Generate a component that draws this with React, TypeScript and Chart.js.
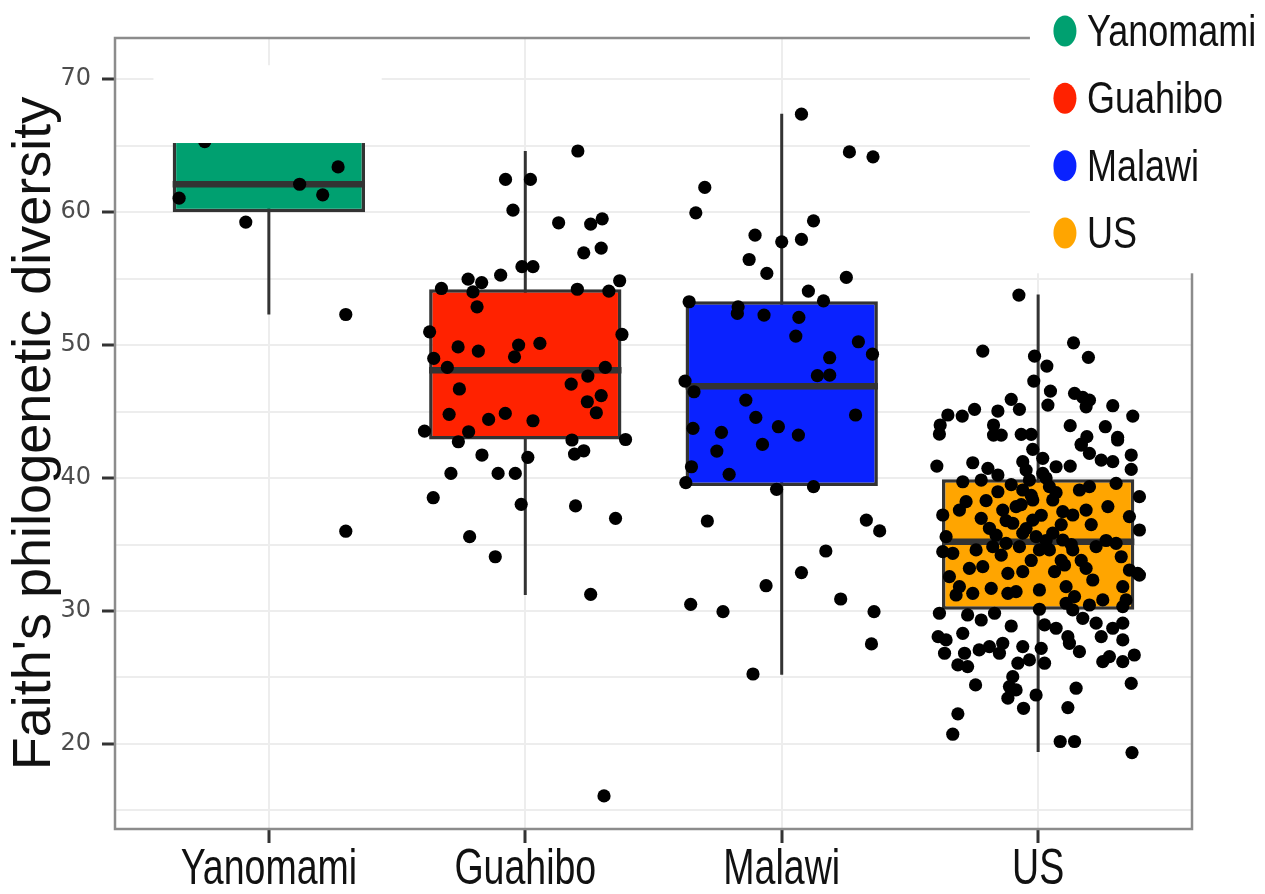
import React, { useEffect, useRef } from "react";
import { Chart, registerables } from "chart.js";

Chart.register(...registerables);

// ---------- data ----------
const categories = ["Yanomami", "Guahibo", "Malawi", "US"];
const fillColors = ["#00A070", "#FF2200", "#0A22FF", "#FFA500"];
const yAxisTitle = "Faith's philogenetic diversity";
const yTickLabels = [20, 30, 40, 50, 60, 70];

const whiskerLow = [52.3, 31.2, 25.2, 19.4];
const q1 = [60.0, 42.9, 39.4, 30.1];
const medians = [62.1, 48.1, 46.9, 35.2];
const q3 = [66.5, 54.2, 53.3, 39.9];
const whiskerHigh = [71.0, 64.6, 67.4, 53.8];

// [horizontal jitter (category units), value]
const yanomamiPoints = [
  [-0.25, 65.3], [-0.35, 61.05], [0.12, 62.1], [0.21, 61.3], [0.27, 63.4],
  [-0.09, 59.25], [0.3, 52.3], [0.3, 36.0],
];

const guahiboPoints = [
  [0.205, 64.6], [-0.077, 62.46], [0.02, 62.46], [-0.048, 60.15], [0.13, 59.2],
  [0.255, 59.1], [0.3, 59.5], [0.228, 56.94], [0.296, 57.3], [-0.013, 55.9],
  [0.03, 55.9], [-0.096, 55.26], [-0.223, 54.96], [-0.17, 54.7], [-0.204, 54.0],
  [-0.327, 54.26], [0.203, 54.2], [0.326, 54.06], [0.368, 54.84], [-0.188, 52.88],
  [-0.373, 51.0], [0.377, 50.8], [-0.262, 49.86], [-0.183, 49.55], [-0.026, 50.0],
  [-0.042, 49.12], [0.057, 50.13], [-0.357, 49.0], [-0.304, 48.32], [0.312, 48.32],
  [0.244, 47.67], [0.179, 47.07], [-0.257, 46.7], [0.296, 46.2], [0.242, 45.74],
  [0.277, 44.91], [-0.297, 44.79], [-0.143, 44.41], [-0.078, 44.86], [0.03, 44.31],
  [-0.393, 43.53], [-0.221, 43.48], [-0.261, 42.73], [0.391, 42.9], [0.182, 42.86],
  [0.192, 41.8], [0.228, 42.05], [-0.169, 41.73], [0.01, 41.56], [-0.29, 40.35],
  [-0.106, 40.35], [-0.039, 40.35], [-0.359, 38.52], [-0.016, 38.02], [0.196, 37.9],
  [0.352, 36.97], [-0.217, 35.59], [-0.117, 34.08], [0.255, 31.25], [0.307, 16.09],
];

const malawiPoints = [
  [0.077, 67.37], [0.264, 64.53], [0.356, 64.16], [-0.3, 61.86], [-0.335, 59.95],
  [0.124, 59.35], [-0.104, 58.27], [0.0, 57.77], [0.077, 57.95], [-0.127, 56.44],
  [-0.058, 55.39], [0.252, 55.09], [0.104, 54.06], [0.163, 53.33], [-0.361, 53.26],
  [-0.17, 52.88], [-0.173, 52.38], [-0.069, 52.26], [0.067, 52.08], [0.055, 50.68],
  [0.299, 50.25], [0.354, 49.32], [0.187, 49.05], [0.139, 47.7], [0.187, 47.74],
  [-0.377, 47.29], [-0.342, 46.49], [-0.14, 45.86], [-0.101, 44.56], [0.288, 44.74],
  [-0.346, 43.74], [-0.235, 43.44], [-0.013, 43.86], [0.065, 43.23], [-0.253, 42.03],
  [-0.075, 42.53], [-0.352, 40.85], [-0.205, 40.28], [-0.374, 39.65], [-0.02, 39.15],
  [0.124, 39.35], [-0.29, 36.77], [0.33, 36.84], [0.382, 36.02], [0.172, 34.51],
  [0.077, 32.89], [-0.061, 31.9], [-0.355, 30.5], [-0.229, 29.95], [0.23, 30.9],
  [0.36, 29.95], [0.35, 27.52], [-0.112, 25.26],
];

const usPoints = [
  [-0.075, 53.76], [-0.216, 49.55], [0.138, 50.17], [0.196, 49.08], [-0.014, 49.17],
  [0.034, 48.42], [-0.017, 47.29], [0.048, 46.54], [0.038, 45.49], [-0.105, 45.92],
  [-0.073, 45.17], [-0.248, 45.17], [-0.296, 44.66], [-0.352, 44.74], [-0.382, 43.99],
  [-0.385, 43.31], [-0.157, 45.04], [-0.174, 43.99], [-0.174, 43.23], [-0.144, 43.23],
  [-0.066, 43.29], [-0.027, 43.29], [0.142, 46.37], [0.174, 46.07], [0.2, 45.86],
  [0.187, 45.36], [0.291, 45.44], [0.369, 44.66], [0.125, 43.94], [0.262, 43.86],
  [0.31, 43.06], [0.19, 43.11], [0.168, 42.55],
  [-0.395, 40.9], [-0.255, 41.15], [-0.196, 40.73], [-0.157, 40.23], [-0.06, 41.23],
  [-0.021, 42.16], [0.018, 41.48], [0.07, 40.85], [0.125, 40.9], [0.168, 42.48],
  [0.2, 41.86], [0.246, 41.35], [0.291, 41.23], [0.363, 41.73], [0.363, 40.65],
  [0.31, 42.86],
  [-0.294, 39.72], [-0.222, 39.85], [-0.157, 38.97], [-0.307, 37.59], [-0.281, 38.22],
  [-0.372, 37.22], [-0.222, 36.97], [-0.19, 36.22], [-0.138, 37.59], [-0.086, 37.85],
  [-0.06, 39.1], [-0.034, 39.85], [0.018, 40.35], [0.044, 39.35], [0.057, 38.35],
  [-0.021, 38.35], [-0.099, 36.6], [-0.06, 35.85], [-0.021, 36.84], [-0.008, 35.59],
  [-0.073, 34.84], [-0.125, 35.09], [-0.177, 34.84], [-0.242, 34.59], [-0.359, 35.59],
  [-0.372, 34.46], [-0.333, 34.34], [-0.346, 32.58], [-0.268, 33.21], [-0.216, 33.33],
  [-0.118, 32.83], [-0.06, 32.96], [-0.307, 31.83], [-0.255, 31.33], [-0.32, 31.2],
  [-0.183, 31.7], [-0.118, 31.33], [-0.086, 31.45], [0.005, 31.58], [0.064, 32.96],
  [0.103, 33.46], [0.044, 34.59], [0.096, 35.34], [0.057, 35.85], [0.096, 37.47],
  [0.135, 37.22], [0.161, 39.1], [0.2, 39.35], [0.187, 37.59], [0.272, 37.85],
  [0.304, 39.6], [0.356, 37.1], [0.395, 38.6], [0.395, 36.09], [0.304, 35.09],
  [0.324, 34.08], [0.356, 33.08], [0.388, 32.83], [0.187, 33.21], [0.213, 32.33],
  [0.109, 31.83], [0.142, 31.08], [0.33, 31.83], [0.252, 30.83], [0.343, 30.83],
  [0.135, 34.59], [0.226, 34.84], [0.005, 34.59], [0.395, 32.7],
  [-0.047, 40.6], [0.031, 40.0], [-0.105, 39.5], [-0.027, 38.7], [0.07, 38.9],
  [-0.066, 38.0], [0.012, 37.2], [-0.125, 36.8], [0.09, 36.5], [-0.047, 36.2],
  [-0.164, 35.7], [0.031, 35.3], [0.129, 35.0], [-0.144, 34.2], [-0.027, 33.8],
  [0.09, 33.8], [-0.203, 38.3], [0.207, 36.5], [0.265, 35.3], [0.168, 33.8],
  [-0.385, 29.83], [-0.275, 29.7], [-0.222, 29.32], [-0.17, 29.83], [-0.105, 28.87],
  [-0.294, 28.32], [-0.39, 28.07], [-0.359, 27.82], [-0.365, 26.82], [-0.287, 26.82],
  [-0.313, 25.94], [-0.275, 25.82], [-0.23, 27.07], [-0.19, 27.32], [-0.138, 27.57],
  [-0.151, 26.82], [-0.06, 27.32], [-0.079, 26.07], [-0.034, 26.32], [-0.099, 25.06],
  [-0.112, 24.31], [-0.118, 23.44], [-0.086, 24.06], [-0.244, 24.44], [-0.008, 23.68],
  [-0.057, 22.68], [-0.313, 22.26], [-0.333, 20.73], [0.005, 30.13], [0.025, 28.95],
  [0.07, 28.7], [0.116, 28.07], [0.122, 27.57], [0.161, 26.94], [0.012, 27.19],
  [0.025, 26.07], [0.148, 24.19], [0.116, 22.73], [0.086, 20.18], [0.142, 20.18],
  [0.135, 30.08], [0.174, 29.45], [0.226, 29.08], [0.246, 28.07], [0.291, 28.7],
  [0.33, 29.08], [0.33, 27.82], [0.252, 26.19], [0.278, 26.57], [0.33, 26.19],
  [0.375, 26.69], [0.363, 24.56], [0.366, 19.35], [0.109, 30.58], [0.2, 30.45],
  [0.33, 30.33],
];

const groupPoints = [yanomamiPoints, guahiboPoints, malawiPoints, usPoints];

// Regions of the original picture that were blanked out (value units)
const yanomamiMask = { x0: 0.55, x1: 1.44, y0: 65.2, y1: 71.05 };
const legendMask = { x0: 3.968, y0: 55.4 };

// ---------- helpers ----------
const BOX_WIDTH = 0.75;
const DARK = "#333333";
const SANS = "'Liberation Sans', Arial, sans-serif";

function segmentData(pairs: { x0: number; y0: number; x1: number; y1: number }[]) {
  const out: { x: number; y: number | null }[] = [];
  pairs.forEach((p) => {
    out.push({ x: p.x0, y: p.y0 });
    out.push({ x: p.x1, y: p.y1 });
    out.push({ x: p.x1, y: null });
  });
  return out;
}

function condensedText(ctx: CanvasRenderingContext2D, text: string, x: number, y: number, squeeze: number, align: "left" | "center") {
  ctx.save();
  ctx.translate(x, y);
  ctx.scale(squeeze, 1);
  ctx.textAlign = align;
  ctx.fillText(text, 0, 0);
  ctx.restore();
}

const overlayPlugin = {
  id: "overlay",
  afterDatasetsDraw(chart: any) {
    const { ctx, chartArea, scales } = chart;
    const xs = scales.x;
    const ys = scales.y;
    ctx.save();
    // panel border
    ctx.strokeStyle = "#8C8C8C";
    ctx.lineWidth = 2.5;
    ctx.strokeRect(chartArea.left, chartArea.top, chartArea.right - chartArea.left, chartArea.bottom - chartArea.top);

    // blanked area over Yanomami box top
    ctx.fillStyle = "#FFFFFF";
    const mx0 = xs.getPixelForValue(yanomamiMask.x0);
    const mx1 = xs.getPixelForValue(yanomamiMask.x1);
    const my0 = ys.getPixelForValue(yanomamiMask.y1);
    const my1 = ys.getPixelForValue(yanomamiMask.y0);
    ctx.fillRect(mx0, my0, mx1 - mx0, my1 - my0);

    // category labels under the x axis
    ctx.fillStyle = "#111111";
    ctx.font = `50px ${SANS}`;
    ctx.textBaseline = "alphabetic";
    categories.forEach((name, i) => {
      condensedText(ctx, name, xs.getPixelForValue(i + 1), chartArea.bottom + 55, 0.75, "center");
    });

    // legend area
    const lx = xs.getPixelForValue(legendMask.x0);
    const ly = ys.getPixelForValue(legendMask.y0);
    ctx.fillStyle = "#FFFFFF";
    ctx.fillRect(lx, 0, chart.width - lx, ly);

    // legend entries
    const step = (ly - 4) / categories.length;
    const cx = lx + 35;
    categories.forEach((name, i) => {
      const cy = 31 + i * step;
      ctx.fillStyle = fillColors[i];
      ctx.beginPath();
      ctx.ellipse(cx, cy, 11.5, 15.5, 0, 0, Math.PI * 2);
      ctx.fill();
      ctx.fillStyle = "#111111";
      ctx.font = `45px ${SANS}`;
      ctx.textBaseline = "alphabetic";
      condensedText(ctx, name, cx + 22, cy + 15, 0.8, "left");
    });
    ctx.restore();
  },
};

export default function App() {
  const canvasRef = useRef<HTMLCanvasElement | null>(null);

  useEffect(() => {
    const canvas = canvasRef.current;
    if (!canvas) return;

    const boxData = categories.map((_, i) => ({ x: i + 1, y: [q1[i], q3[i]] }));
    const medianData = segmentData(
      categories.map((_, i) => ({ x0: i + 1 - BOX_WIDTH / 2, y0: medians[i], x1: i + 1 + BOX_WIDTH / 2, y1: medians[i] }))
    );
    const whiskerData = segmentData(
      categories.map((_, i) => ({ x0: i + 1, y0: whiskerLow[i], x1: i + 1, y1: whiskerHigh[i] }))
    );
    const pointData: { x: number; y: number }[] = [];
    groupPoints.forEach((pts, gi) => {
      pts.forEach(([j, v]) => pointData.push({ x: gi + 1 + j, y: v }));
    });

    const chart = new Chart(canvas, {
      type: "bar",
      data: {
        datasets: [
          {
            type: "scatter",
            data: pointData,
            backgroundColor: "#000000",
            borderWidth: 0,
            pointRadius: 6.6,
            order: 1,
          } as any,
          {
            type: "line",
            data: medianData,
            borderColor: DARK,
            borderWidth: 6.5,
            pointRadius: 0,
            spanGaps: false,
            order: 2,
          } as any,
          {
            type: "bar",
            data: boxData,
            backgroundColor: fillColors,
            borderColor: DARK,
            borderWidth: 3.5,
            borderSkipped: false,
            grouped: false,
            categoryPercentage: 1,
            barPercentage: BOX_WIDTH,
            order: 3,
          } as any,
          {
            type: "line",
            data: whiskerData,
            borderColor: DARK,
            borderWidth: 3,
            pointRadius: 0,
            spanGaps: false,
            order: 4,
          } as any,
        ],
      },
      options: {
        animation: false,
        responsive: true,
        maintainAspectRatio: false,
        events: [],
        layout: { padding: { left: 0, top: 38, right: 73, bottom: 0 } },
        plugins: { legend: { display: false }, tooltip: { enabled: false } },
        scales: {
          x: {
            type: "linear",
            min: 0.4,
            max: 4.6,
            offset: false,
            afterBuildTicks: (scale: any) => {
              scale.ticks = categories.map((_, i) => ({ value: i + 1 }));
            },
            afterFit: (scale: any) => {
              scale.height = 65;
            },
            border: { display: false },
            grid: {
              offset: false,
              color: "#EDEDED",
              lineWidth: 2,
              tickColor: DARK,
              tickLength: 14,
              tickWidth: 3,
            },
            ticks: {
              display: false,
              autoSkip: false,
              maxRotation: 0,
              callback: (v: any) => categories[Math.round(Number(v)) - 1] ?? "",
            },
          },
          y: {
            type: "linear",
            min: 13.6,
            max: 73.1,
            afterFit: (scale: any) => {
              scale.width = 115;
            },
            border: { display: false },
            grid: {
              color: "#EDEDED",
              lineWidth: 2,
              tickLength: 13,
              tickWidth: 3,
              tickColor: (c: any) => (yTickLabels.includes(c.tick?.value) ? DARK : "rgba(0,0,0,0)"),
            },
            title: {
              display: true,
              text: yAxisTitle,
              color: "#111111",
              font: { family: SANS, size: 54 },
              padding: { top: 3, bottom: 0 },
            },
            ticks: {
              stepSize: 5,
              includeBounds: false,
              padding: 11,
              color: "#4D4D4D",
              font: { family: "'DejaVu Sans', sans-serif", size: 24 },
              callback: (v: any) => (yTickLabels.includes(Number(v)) ? String(v) : ""),
            },
          },
        },
      },
      plugins: [overlayPlugin],
    } as any);

    return () => chart.destroy();
  }, []);

  return (
    <div style={{ position: "fixed", left: 0, top: 0, width: 1265, height: 894, background: "#FFFFFF" }}>
      <canvas ref={canvasRef} />
    </div>
  );
}
